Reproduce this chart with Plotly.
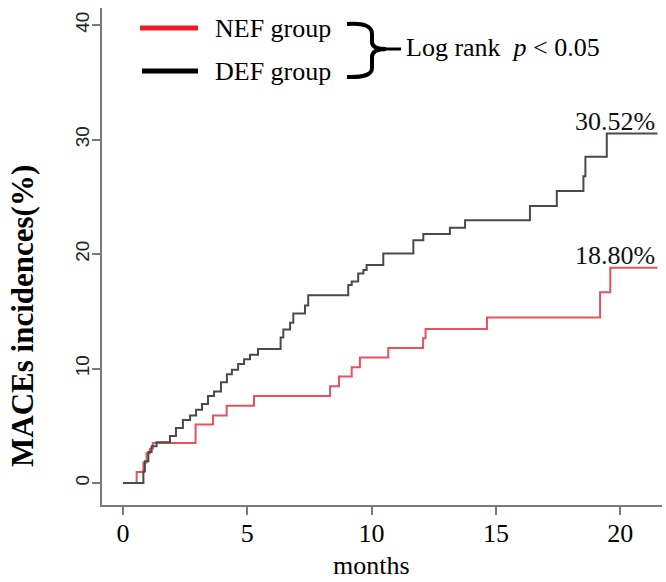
import plotly.graph_objects as go

# ---- data ----
nef_months = [0, 0.55, 0.82, 0.95, 1.08, 1.2, 2.92, 3.62, 4.17, 5.27, 8.33, 8.69, 9.2, 9.53,
              10.67, 12.07, 12.17, 14.64, 19.19, 19.6, 21.5]
nef_inc = [0, 0.95, 1.8, 2.6, 3.0, 3.5, 5.1, 5.9, 6.75, 7.6, 8.45, 9.3, 10.1, 10.95,
           11.8, 12.65, 13.45, 14.45, 16.65, 18.80, 18.80]

def_months = [0, 0.82, 0.88, 1.02, 1.15, 1.35, 1.89, 2.13, 2.41, 2.7, 2.94, 3.18, 3.42, 3.66,
              3.94, 4.18, 4.38, 4.63, 4.87, 5.11, 5.43, 6.34, 6.45, 6.72, 6.85, 7.32, 7.45,
              9.06, 9.2, 9.46, 9.67, 9.8, 10.0, 10.47, 11.68, 12.08, 13.15, 13.76, 16.37,
              17.45, 18.52, 18.6, 19.46, 21.5]
def_inc = [0, 1.0, 1.9, 2.7, 3.2, 3.55, 4.1, 4.8, 5.5, 5.9, 6.4, 6.9, 7.6, 8.0,
           8.8, 9.5, 9.9, 10.4, 10.8, 11.2, 11.7, 12.7, 13.4, 14.0, 14.8, 15.5, 16.4,
           17.3, 17.6, 18.3, 18.6, 19.05, 19.05, 20.05, 21.2, 21.75, 22.3, 22.95, 24.2,
           25.5, 26.8, 28.5, 30.52, 30.52]

x_ticks = [0, 5, 10, 15, 20]
y_ticks = [0, 10, 20, 30, 40]
nef_final_label = "18.80%"
def_final_label = "30.52%"

SERIF = "Liberation Serif, Times New Roman, serif"
SANS = "Liberation Sans, Arial, sans-serif"
AXIS_GREY = "#7a7a7a"

W, H = 666, 582
ML, MR, MT, MB = 102, 4, 8, 77
PW, PH = W - ML - MR, H - MT - MB


def px(x, y):
    """convert pixel position to paper coords (for decorations only)"""
    return (x - ML) / PW, 1 - (y - MT) / PH


fig = go.Figure()
fig.add_trace(go.Scatter(x=nef_months, y=nef_inc, mode="lines", line_shape="hv",
                         line=dict(color="#e5545e", width=2), name="NEF group",
                         showlegend=False, hoverinfo="skip"))
fig.add_trace(go.Scatter(x=def_months, y=def_inc, mode="lines", line_shape="hv",
                         line=dict(color="#4a4a4a", width=2), name="DEF group",
                         showlegend=False, hoverinfo="skip"))

# end labels
fig.add_annotation(x=def_months[-1], y=def_inc[-1], text=def_final_label, showarrow=False,
                   xanchor="right", yanchor="bottom", yshift=-4,
                   font=dict(family=SERIF, size=26, color="#111"))
fig.add_annotation(x=nef_months[-1], y=nef_inc[-1], text=nef_final_label, showarrow=False,
                   xanchor="right", yanchor="bottom", yshift=-4,
                   font=dict(family=SERIF, size=26, color="#111"))

# legend (drawn manually)
x0, y0 = px(140, 28)
x1, _ = px(198, 28)
fig.add_shape(type="line", xref="paper", yref="paper", x0=x0, x1=x1, y0=y0, y1=y0,
              line=dict(color="#ee1c25", width=5))
x0, y0 = px(142, 71)
fig.add_shape(type="line", xref="paper", yref="paper", x0=x0, x1=x1, y0=y0, y1=y0,
              line=dict(color="#000000", width=5))
tx, ty = px(213, 28)
fig.add_annotation(xref="paper", yref="paper", x=tx, y=ty, text="NEF group", showarrow=False,
                   xanchor="left", yanchor="middle", font=dict(family=SERIF, size=26, color="#000"))
tx, ty = px(213, 71)
fig.add_annotation(xref="paper", yref="paper", x=tx, y=ty, text="DEF group", showarrow=False,
                   xanchor="left", yanchor="middle", font=dict(family=SERIF, size=26, color="#000"))

# brace
def P(x, y):
    a, b = px(x, y)
    return f"{a:.5f},{b:.5f}"
path = ("M " + P(347, 24) + " Q " + P(372, 22) + " " + P(372, 34) +
        " L " + P(372, 42) + " Q " + P(372, 49) + " " + P(386, 49) +
        " Q " + P(372, 49) + " " + P(372, 57) +
        " L " + P(372, 68) + " Q " + P(372, 78) + " " + P(347, 77))
fig.add_shape(type="path", xref="paper", yref="paper", path=path,
              line=dict(color="#000", width=4))
a0, b0 = px(384, 49)
a1, _ = px(401, 49)
fig.add_shape(type="line", xref="paper", yref="paper", x0=a0, x1=a1, y0=b0, y1=b0,
              line=dict(color="#000", width=3))
tx, ty = px(404, 48)
fig.add_annotation(xref="paper", yref="paper", x=tx, y=ty,
                   text="Log rank  <i>p</i> &lt; 0.05", showarrow=False,
                   xanchor="left", yanchor="middle", font=dict(family=SERIF, size=26, color="#000"))

# axis titles
tx, ty = px(22, 316)
fig.add_annotation(xref="paper", yref="paper", x=tx, y=ty, text="<b>MACEs incidences(%)</b>",
                   textangle=-90, showarrow=False, xanchor="center", yanchor="middle",
                   font=dict(family=SERIF, size=31, color="#000"))
tx, ty = px(371, 565)
fig.add_annotation(xref="paper", yref="paper", x=tx, y=ty, text="months",
                   showarrow=False, xanchor="center", yanchor="middle",
                   font=dict(family=SERIF, size=26, color="#000"))

x_per_px = 1 / 24.86
y_per_px = 1 / 11.45
fig.update_layout(
    width=W, height=H, margin=dict(l=ML, r=MR, t=MT, b=MB, autoexpand=False),
    paper_bgcolor="white", plot_bgcolor="white", showlegend=False,
    xaxis=dict(range=[(ML - 123) * x_per_px, (ML + PW - 123) * x_per_px], automargin=False,
               tickvals=x_ticks, ticktext=[str(v) for v in x_ticks], ticklabelstandoff=-4,
               showgrid=False, zeroline=False, showline=True, linecolor=AXIS_GREY, linewidth=2,
               ticks="outside", ticklen=8, tickwidth=2, tickcolor=AXIS_GREY,
               tickfont=dict(family=SERIF, size=26, color="#000")),
    yaxis=dict(range=[(483 - (MT + PH)) * y_per_px, (483 - MT) * y_per_px], automargin=False,
               tickvals=y_ticks, ticktext=[str(v) for v in y_ticks], tickangle=-90,
               ticklabelstandoff=-5,
               showgrid=False, zeroline=False, showline=True, linecolor=AXIS_GREY, linewidth=2,
               ticks="outside", ticklen=8, tickwidth=2, tickcolor=AXIS_GREY,
               tickfont=dict(family=SANS, size=19, color="#222")),
)

fig.write_html("out.html", config={"displayModeBar": False},
               post_script="document.body.style.margin='0';")
